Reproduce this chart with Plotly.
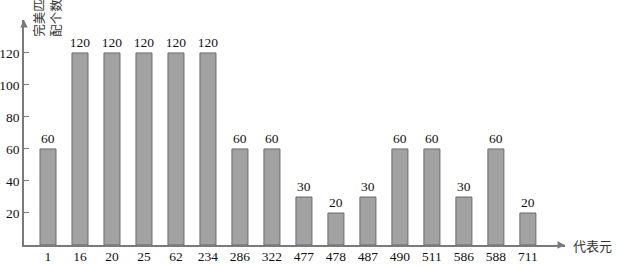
import plotly.graph_objects as go

categories = ["1", "16", "20", "25", "62", "234", "286", "322", "477", "478", "487", "490", "511", "586", "588", "711"]
values = [60, 120, 120, 120, 120, 120, 60, 60, 30, 20, 30, 60, 60, 30, 60, 20]
y_ticks = [20, 40, 60, 80, 100, 120]
x_title = "代表元"
y_title = "完美匹<br>配个数"

serif = "Times New Roman, Liberation Serif, serif"
cjk = "Noto Sans CJK SC"
axis_col = "#7a7a7a"

fig = go.Figure(go.Bar(
    x=list(range(len(categories))),
    y=values,
    text=[str(v) for v in values],
    textposition="outside",
    constraintext="none",
    textfont=dict(family=serif, size=13.5, color="#111"),
    cliponaxis=False,
    marker=dict(color="#a2a2a2", line=dict(color="#6a6a6a", width=1)),
))

fig.update_layout(
    width=618, height=268,
    margin=dict(l=24, r=53, t=20, b=23),
    paper_bgcolor="white", plot_bgcolor="white",
    bargap=0.5,
    showlegend=False,
    xaxis=dict(
        range=[-0.75, 16.16],
        tickmode="array",
        tickvals=list(range(len(categories))),
        ticktext=categories,
        ticks="",
        ticklabelstandoff=-2,
        showgrid=False, zeroline=False,
        showline=True, linecolor=axis_col, linewidth=1.5,
        tickfont=dict(family=serif, size=13.5, color="#111"),
        automargin=False,
    ),
    yaxis=dict(
        range=[0, 140.6],
        tickmode="array",
        tickvals=y_ticks,
        ticks="inside", ticklen=5, tickcolor=axis_col,
        showgrid=False, zeroline=False,
        showline=True, linecolor=axis_col, linewidth=1.5,
        tickfont=dict(family=serif, size=13.5, color="#111"),
        automargin=False,
    ),
    annotations=[
        dict(x=1.0, y=0, xref="paper", yref="paper", ax=-8, ay=0,
             axref="pixel", ayref="pixel", text="", showarrow=True,
             arrowhead=2, arrowsize=1, arrowwidth=1.5, arrowcolor=axis_col),
        dict(x=0, y=1.0, xref="paper", yref="paper", ax=0, ay=8,
             axref="pixel", ayref="pixel", text="", showarrow=True,
             arrowhead=2, arrowsize=1, arrowwidth=1.5, arrowcolor=axis_col),
        dict(x=1.0, y=0, xref="paper", yref="paper", xanchor="left", yanchor="middle",
             xshift=6, text=x_title, showarrow=False,
             font=dict(family=cjk, size=13, color="#333")),
        dict(x=0.0296, y=1.01, xref="paper", yref="paper", xanchor="center", yanchor="middle",
             xshift=7, text=y_title, textangle=-90, showarrow=False,
             font=dict(family=cjk, size=12.5, color="#333")),
    ],
)

fig.write_html("out.html", config={"displayModeBar": False},
               post_script="document.body.style.margin='0';")
